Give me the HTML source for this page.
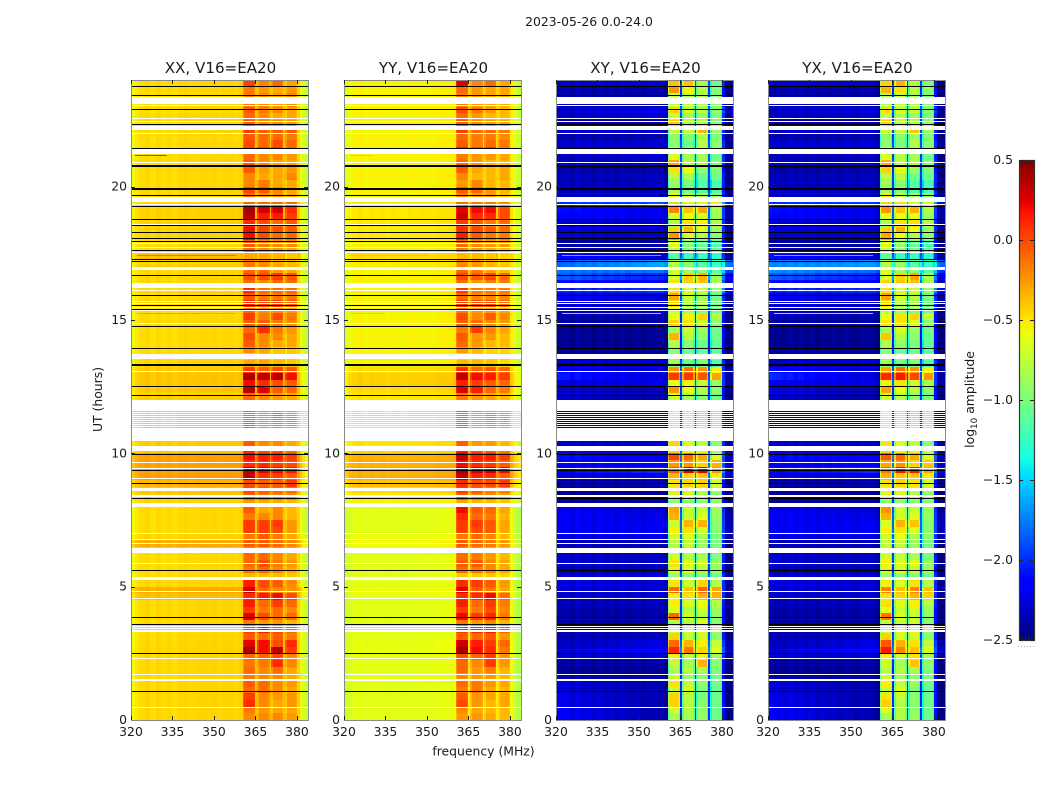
<!DOCTYPE html>
<html lang="en">
<head>
<meta charset="utf-8">
<title>2023-05-26 0.0-24.0</title>
<style>
html,body{margin:0;padding:0;background:#fff;width:1050px;height:800px;overflow:hidden}
svg{display:block}
text{font-family:"DejaVu Sans","Liberation Sans",sans-serif;fill:#1a1a1a}
.tick{font-size:12.4px}
.ptitle{font-size:15.1px;text-anchor:middle}
</style>
</head>
<body>
<svg id="fig" xmlns="http://www.w3.org/2000/svg" width="1050" height="800" viewBox="0 0 1050 800">
<rect x="0" y="0" width="1050" height="800" fill="#fff"/>
<text x="589" y="26" text-anchor="middle" font-size="12.4">2023-05-26 0.0-24.0</text>
<text x="0" y="0" text-anchor="middle" font-size="12.4" transform="translate(102,399.5) rotate(-90)">UT (hours)</text>
<text x="483.5" y="755.5" text-anchor="middle" font-size="12.4">frequency (MHz)</text>
<g id="panels"></g>
<g id="colorbar"></g>
<text x="0" y="0" text-anchor="middle" font-size="12.4" transform="translate(974,399.5) rotate(-90)">log<tspan font-size="8.8" dy="3">10</tspan><tspan dy="-3"> amplitude</tspan></text>
</svg>
<script>
const panelTitles = ["XX, V16=EA20","YY, V16=EA20","XY, V16=EA20","YX, V16=EA20"];
const freqTicks = [320,335,350,365,380];
const hourTicks = [0,5,10,15,20];
const colorTicks = [0.5,0,-0.5,-1,-1.5,-2,-2.5];

/* frequency bin edges in MHz */
const binEdges = [320,320.5,321.5,323,325,327,329,331,333,335,337,339,341,343,345,347,349,351,353,355,357,359,360.5,361,364.5,365,365.7,366.2,369.7,370.2,370.7,371.2,374.5,375,375.8,376.3,379.5,380,381,382,383,384];
/* bin kind: L=background blended left to right, R=right background, 1-4=sub-band */
const binKinds = ["L","L","L","L","L","L","L","L","L","L","L","L","L","L","L","L","L","L","L","L","L","L",1,1,1,"R",2,2,2,"R",3,3,3,"R",4,4,4,"R","R","R","R"];
/* per-bin bandpass offset in log10 amplitude */
const xxShape = [-.2,-.1,-.04,0,.02,-.02,.02,-.01,.01,-.02,.01,.02,0,.01,.02,.01,.02,.01,.02,.02,.01,.03,-.12,0,-.05,.09,-.12,0,-.05,.09,-.12,0,-.05,.09,-.12,0,-.05,.03,-.1,-.2,-.28,-.33];
const yyShape = [-.15,-.07,0,.03,.05,.02,.04,.03,.04,.02,.04,.03,.02,.04,.03,.04,.04,.03,.05,.05,.05,.06,-.12,0,-.05,.14,-.12,0,-.05,.14,-.12,0,-.05,.14,-.12,0,-.05,.06,-.03,-.1,-.15,-.19];
const xyShape = [-.05,-.08,-.1,-.08,-.13,-.06,-.12,-.08,-.13,-.07,-.12,-.08,-.12,-.07,-.12,-.09,-.08,-.12,-.08,-.07,-.08,-.15,-.28,.06,-.25,.3,-.28,.06,-.25,.3,-.28,.06,-.25,.3,-.28,.06,-.25,.2,-.2,-.25,-.25,-.22];
const yxShape = [-.04,-.07,-.1,-.09,-.12,-.07,-.12,-.07,-.12,-.08,-.13,-.08,-.11,-.08,-.12,-.08,-.09,-.12,-.07,-.08,-.08,-.15,-.28,.06,-.25,.3,-.28,.06,-.25,.3,-.28,.06,-.25,.3,-.28,.06,-.25,.2,-.2,-.25,-.25,-.22];

/* rows run top to bottom, 0.25 h each, from 24 h down to 0 h.  [background,band1,band2,band3,band4] */
const xxGrid = [
[-.47,.02,-.18,-.08,-.28],[-.47,-.15,-.25,-.3,-.25],[-.47,-.15,-.2,-.25,-.2],[-.47,-.15,-.2,-.25,-.2],
[-.47,-.05,-.15,-.2,-.3],[-.47,-.1,-.2,-.3,-.3],[-.47,-.05,-.2,-.2,-.25],[-.46,.05,-.05,-.05,-.05],
[-.47,-.05,-.1,-.1,-.15],[-.47,0,-.1,0,-.1],[-.47,.05,.05,.1,-.1],[-.47,-.1,-.2,-.2,-.25],
[-.47,-.05,-.2,-.3,-.3],[-.47,-.05,-.25,-.3,-.25],[-.47,-.2,-.3,-.3,-.2],[-.47,-.2,-.15,-.3,-.3],
[-.46,0,-.05,-.2,-.3],[-.46,-.1,-.2,-.2,-.3],[-.46,-.1,-.1,-.1,-.1],[-.44,.4,.3,.3,.1],
[-.44,.35,.15,.15,.05],[-.45,.1,0,-.1,-.05],[-.45,.2,.05,0,-.05],[-.45,.2,0,-.1,-.1],
[-.47,-.05,-.15,-.2,-.2],[-.47,-.1,-.2,-.25,-.3],[-.38,-.3,-.3,-.35,-.4],[-.44,-.15,-.2,-.3,-.35],
[-.46,-.1,-.1,-.25,-.3],[-.46,0,0,.05,-.05],[-.46,-.1,-.2,-.1,-.1],[-.46,.1,-.1,-.1,-.1],
[-.47,-.05,-.15,-.15,-.15],[-.46,.1,.05,.05,-.05],[-.47,-.1,-.2,-.2,-.25],[-.47,.05,-.15,0,-.15],
[-.47,-.05,-.05,-.15,-.2],[-.47,-.1,.1,-.15,-.25],[-.47,0,-.2,-.2,-.3],[-.47,-.05,-.2,-.3,-.3],
[-.47,-.2,-.3,-.4,-.4],[-.47,-.4,-.4,-.4,-.4],[-.46,-.3,-.3,-.35,-.4],[-.42,.05,-.05,0,-.05],
[-.4,.4,.35,.35,.2],[-.4,.2,.1,0,-.05],[-.42,.35,.25,-.05,-.1],[-.44,-.1,-.2,-.25,-.3],
[-.44,-.3,-.3,-.3,-.3],[-.44,-.05,-.2,-.2,-.25],[-.44,-.1,-.2,-.1,-.2],[-.44,-.05,-.2,-.15,-.2],
[-.44,-.1,-.2,-.2,-.25],[-.44,-.1,-.2,-.2,-.25],[-.42,-.05,-.2,-.2,-.3],[-.4,.1,0,0,-.1],
[-.28,.2,.15,.15,.05],[-.28,.1,.1,.05,0],[-.3,.35,.25,.2,.15],[-.28,.35,.1,.05,-.05],
[-.35,0,-.05,-.05,.05],[-.4,0,-.05,-.1,-.1],[-.42,-.05,-.1,-.15,-.2],[-.45,-.25,-.3,-.3,-.35],
[-.47,-.05,-.3,-.2,-.35],[-.47,-.15,-.2,-.2,-.35],[-.47,.05,.05,.05,-.25],[-.47,.05,.05,0,-.25],
[-.45,-.15,-.05,-.15,-.3],[-.32,-.05,-.05,-.1,-.2],[-.42,-.2,-.25,-.25,-.3],[-.47,-.1,-.1,-.2,-.3],
[-.47,-.1,0,-.15,-.25],[-.47,-.15,-.1,-.2,-.3],[-.47,-.35,-.35,-.35,-.4],[-.46,.15,0,-.05,-.2],
[-.33,.3,-.1,-.2,-.25],[-.38,.1,.15,.2,0],[-.46,.15,-.1,.05,-.1],[-.46,.05,-.15,-.1,-.2],
[-.46,.25,0,-.1,-.1],[-.47,-.15,-.25,-.25,-.35],[-.46,.05,.15,0,-.1],[-.47,-.05,-.1,-.05,-.15],
[-.46,.25,.2,0,.1],[-.45,.4,.2,.35,.05],[-.46,-.1,-.1,0,-.2],[-.46,-.15,-.15,.1,-.2],
[-.46,-.1,-.2,-.1,-.3],[-.46,-.15,-.2,-.2,-.3],[-.46,-.05,-.1,-.2,-.25],[-.46,-.1,-.1,-.2,-.3],
[-.46,.05,-.2,-.25,-.25],[-.46,.1,-.2,-.3,-.25],[-.46,-.15,-.25,-.3,-.3],[-.46,-.2,-.2,-.2,-.25]
];
const yyGrid = [
[-.58,.25,-.2,-.1,-.3],[-.58,-.1,-.25,-.3,-.3],[-.58,-.15,-.25,-.3,-.3],[-.58,-.15,-.25,-.3,-.3],
[-.58,0,-.15,-.25,-.35],[-.58,-.1,-.25,-.35,-.35],[-.58,-.05,-.2,-.25,-.3],[-.58,.05,-.1,-.1,-.15],
[-.58,-.1,-.15,-.15,-.2],[-.58,-.05,-.15,-.1,-.15],[-.58,.1,0,.05,-.15],[-.58,-.15,-.25,-.25,-.3],
[-.58,-.1,-.25,-.35,-.35],[-.58,-.05,-.3,-.35,-.3],[-.58,-.2,-.35,-.35,-.3],[-.58,-.25,-.2,-.35,-.35],
[-.58,-.05,-.1,-.25,-.35],[-.58,-.15,-.25,-.25,-.35],[-.56,-.1,-.15,-.15,-.2],[-.54,.25,.2,.2,0],
[-.54,.3,.1,.1,0],[-.55,.05,-.05,-.15,-.1],[-.55,.1,0,-.05,-.1],[-.55,.15,-.05,-.15,-.15],
[-.58,-.1,-.2,-.25,-.25],[-.58,-.15,-.25,-.3,-.35],[-.5,-.35,-.35,-.4,-.45],[-.55,-.2,-.25,-.35,-.4],
[-.58,-.1,-.15,-.3,-.35],[-.58,0,-.05,0,-.1],[-.58,-.1,-.25,-.15,-.15],[-.58,.05,-.15,-.15,-.15],
[-.58,-.1,-.2,-.2,-.2],[-.58,.05,0,0,-.1],[-.58,-.15,-.25,-.25,-.3],[-.58,0,-.2,-.05,-.2],
[-.58,-.05,-.1,-.2,-.25],[-.58,-.15,.05,-.2,-.3],[-.58,-.05,-.25,-.25,-.35],[-.58,-.1,-.25,-.35,-.35],
[-.58,-.25,-.35,-.45,-.45],[-.58,-.42,-.42,-.42,-.42],[-.58,-.35,-.35,-.4,-.45],[-.5,.1,-.1,-.05,-.1],
[-.46,.35,.2,.15,.05],[-.46,.15,.05,-.05,-.1],[-.5,.25,.15,-.1,-.15],[-.54,-.15,-.25,-.3,-.35],
[-.54,-.35,-.35,-.35,-.35],[-.54,-.05,-.2,-.25,-.3],[-.54,-.1,-.25,-.15,-.25],[-.54,-.05,-.25,-.2,-.25],
[-.54,-.1,-.25,-.25,-.3],[-.54,-.1,-.25,-.25,-.3],[-.52,-.05,-.25,-.25,-.35],[-.48,.15,0,-.05,-.15],
[-.36,.35,.15,.15,.05],[-.36,.2,.1,.05,-.05],[-.36,.42,.3,.3,.2],[-.36,.35,.15,.1,-.05],
[-.42,.1,0,0,.05],[-.5,.05,-.05,-.15,-.15],[-.54,-.05,-.15,-.2,-.25],[-.58,-.3,-.35,-.35,-.4],
[-.66,.2,-.05,-.1,-.3],[-.66,.1,-.1,-.15,-.35],[-.66,.05,.05,-.05,-.3],[-.66,.05,0,-.05,-.3],
[-.64,-.15,-.1,-.2,-.35],[-.6,-.05,-.1,-.15,-.25],[-.64,-.2,-.25,-.3,-.35],[-.66,-.1,-.15,-.25,-.35],
[-.66,-.05,-.05,-.2,-.3],[-.66,-.1,-.15,-.2,-.3],[-.66,-.4,-.4,-.4,-.45],[-.66,.1,.05,-.05,-.25],
[-.62,.25,-.05,-.15,-.3],[-.64,.1,.1,.2,-.1],[-.66,.15,-.1,.05,-.15],[-.66,.05,-.15,0,-.2],
[-.66,.2,.05,.1,-.15],[-.66,-.15,-.25,-.2,-.35],[-.66,.05,.1,.15,-.1],[-.66,-.05,-.1,-.05,-.25],
[-.64,.3,.15,.05,-.1],[-.64,.42,.2,.1,-.15],[-.65,0,-.1,.05,-.25],[-.65,-.1,-.2,.05,-.25],
[-.66,-.1,-.25,-.15,-.35],[-.66,-.2,-.25,-.25,-.35],[-.66,-.1,-.15,-.25,-.3],[-.66,-.15,-.15,-.3,-.35],
[-.66,-.05,-.25,-.3,-.3],[-.66,0,-.25,-.35,-.3],[-.66,-.2,-.3,-.35,-.35],[-.66,-.25,-.25,-.3,-.35]
];
/* [backgroundLeft,backgroundRight,band1,band2,band3,band4] */
const xyGrid = [
[-2.2,-2.2,-.45,-.45,-.9,-1.1],[-2.3,-2.3,-.3,-.6,-.85,-1.05],[-2.25,-2.3,-.8,-.85,-.9,-1],[-2.25,-2.3,-.8,-.85,-.9,-1],
[-2.2,-2.1,-.5,-.75,-.85,-1],[-2.25,-2.2,-.75,-.9,-.95,-1.05],[-2.3,-2.3,-.45,-.85,-.85,-1],[-2.2,-2.2,-.8,-.8,-.4,-.95],
[-2.3,-2.3,-1,-1,-.9,-1.05],[-2.2,-2.2,-1,-1.1,-.85,-1],[-2.2,-2.2,-.6,-1,-.75,-.95],[-2.25,-2.2,-.7,-.9,-.9,-1.1],
[-2.2,-2.2,-.35,-.8,-.85,-1.05],[-2.3,-2.3,-.55,-.65,-1,-1.05],[-2.25,-2.25,-.85,-.9,-1.15,-1.1],[-2.25,-2.25,-.95,-1.05,-1.2,-1.25],
[-2.25,-2.25,-.85,-1.05,-1.2,-1.2],[-2.2,-2.2,-.6,-.8,-.85,-1],[-1.9,-1.8,-.5,-.6,-.7,-.6],[-2,-2.15,-.25,-.45,-.35,-.9],
[-2.05,-2.15,-.75,-.65,-.75,-.95],[-2.2,-2.2,-.85,-.55,-.6,-.85],[-2.15,-2.2,-.5,-.4,-.7,-.95],[-2.2,-2.25,-.3,-.7,-.85,-1],
[-2.3,-2.3,-.7,-1,-1.1,-1.2],[-2.3,-2.3,-.8,-1,-1.1,-1.2],[-2,-2.2,-1.2,-1.3,-1.3,-1.35],[-1.75,-1.55,-.85,-1,-1.2,-1.3],
[-1.7,-1.7,-.7,-.9,-1,-1.2],[-1.75,-1.95,-.75,-.5,-.4,-.95],[-2,-2.1,-.55,-.5,-.45,-.9],[-1.95,-1.9,-.55,-.7,-.75,-1],
[-2.1,-2.2,-.35,-.75,-.9,-1.1],[-2.15,-2.2,-.5,-.85,-.9,-1.05],[-2.2,-2.2,-.75,-.9,-1,-1.1],[-2.3,-2.3,-.65,-.6,-.5,-.85],
[-2.3,-2.3,-.5,-.55,-.75,-1],[-2.35,-2.35,-.9,-.75,-.95,-1.1],[-2.35,-2.35,-.4,-.85,-1,-1.1],[-2.35,-2.35,-.85,-1,-1.1,-1.15],
[-2.35,-2.35,-1,-1.1,-1.15,-1.2],[-2.35,-2.35,-1,-1,-1,-1],[-2.2,-2.2,-.9,-1.1,-1,-1.2],[-2.1,-2.2,-.3,-.2,-.3,-.6],
[-1.95,-2.2,0,0,-.1,-.35],[-2.15,-2.15,-.65,-.6,-.8,-.95],[-2.2,-2.3,-.3,-.65,-.85,-1],[-2.2,-2.3,-.75,-.9,-1,-1.1],
[-2.3,-2.3,-.9,-.9,-.9,-.9],[-2.3,-2.3,-.7,-.85,-1.1,-.95],[-2.3,-2.3,-.6,-.8,-1.1,-.95],[-2.3,-2.3,-.55,-.8,-1,-1],
[-2.3,-2.3,-.8,-.8,-.8,-.8],[-2.3,-2.3,-.8,-.8,-.8,-.8],[-2.2,-2.2,-.5,-.7,-.8,-1],[-2.1,-2.1,-.5,-.6,-.6,-.9],
[-2,-2.1,-.05,-.15,-.35,-.75],[-2.1,-2.1,-.3,-.3,-.5,-.4],[-2.05,-1.9,-.1,.2,.2,-.3],[-2.2,-2.1,-.4,-.5,-.45,-.6],
[-2.3,-2.3,-.55,-.5,-.5,-.75],[-2.35,-2.35,-.55,-.6,-.85,-.9],[-2.35,-2.35,-.75,-.8,-.9,-1.05],[-2.35,-2.35,-1,-1,-1,-1],
[-2.1,-2.2,-.35,-.75,-.8,-.95],[-2.08,-2.15,-.4,-.8,-.7,-.95],[-2.1,-2.12,-.75,-.4,-.4,-1],[-2.1,-2.12,-.6,-.55,-.75,-1],
[-2.15,-2.15,-.75,-.7,-.9,-1.05],[-2.25,-2.25,-.85,-.8,-.95,-1.05],[-2.2,-2.25,-.9,-1,-1,-1.1],[-2.2,-2.25,-.75,-.85,-.9,-1.05],
[-2.2,-2.25,-.55,-.7,-.75,-.95],[-2.3,-2.3,-.75,-.7,-.9,-.95],[-2.2,-2.2,-.95,-1,-1,-1.1],[-2.15,-2.2,-.55,-.75,-.5,-.85],
[-2.2,-2.2,-.15,-.45,-.15,-.35],[-2.2,-2.2,-.6,-.55,-.4,-.4],[-2.25,-2.25,-.6,-.7,-.65,-.85],[-2.3,-2.3,-.7,-.85,-.75,-.95],
[-2.3,-2.3,-.15,-.75,-.85,-1],[-2.3,-2.3,-.85,-.85,-.7,-1],[-2.3,-2.3,-.75,-.75,-.6,-.95],[-2.25,-2.25,-.5,-.8,-.75,-1],
[-2.25,-2.15,-.15,-.4,-.6,-.8],[-2.2,-2.05,.05,-.2,-.5,-.7],[-2.2,-2.2,-.6,-.8,-.6,-.95],[-2.3,-2.3,-.8,-.9,-.4,-1],
[-2.35,-2.35,-.9,-.85,-.9,-1.05],[-2.3,-2.3,-.75,-.95,-1,-1.1],[-2.15,-2.3,-.55,-.8,-1,-1.1],[-2.2,-2.3,-.8,-.75,-1.05,-1.15],
[-2.12,-2.3,-.5,-.85,-1.05,-1.1],[-2.12,-2.3,-.5,-.85,-1,-1.1],[-2.08,-2.3,-.75,-.85,-1,-1.1],[-2.08,-2.3,-.9,-.9,-.95,-1.1]
];
const yxGrid = [
[-2.2,-2.25,-.5,-.4,-.85,-1.05],[-2.3,-2.3,-.4,-.55,-.85,-1],[-2.25,-2.3,-.85,-.85,-.9,-1],[-2.25,-2.3,-.85,-.85,-.9,-1],
[-2.2,-2.15,-.55,-.75,-.8,-1],[-2.25,-2.25,-.8,-.85,-.95,-1.05],[-2.3,-2.3,-.5,-.8,-.85,-1],[-2.2,-2.2,-.75,-.8,-.45,-.9],
[-2.3,-2.3,-1,-1,-.95,-1.05],[-2.2,-2.2,-1,-1.05,-.85,-1],[-2.2,-2.2,-.6,-.95,-.8,-.95],[-2.25,-2.25,-.7,-.85,-.9,-1.1],
[-2.2,-2.2,-.4,-.8,-.85,-1],[-2.3,-2.3,-.5,-.65,-.95,-1.05],[-2.25,-2.25,-.85,-.85,-1.1,-1.1],[-2.25,-2.25,-.9,-1,-1.2,-1.25],
[-2.2,-2.25,-.85,-1,-1.2,-1.2],[-2.2,-2.2,-.6,-.8,-.9,-1],[-1.9,-1.85,-.5,-.55,-.7,-.65],[-2,-2.15,-.3,-.45,-.4,-.85],
[-2.05,-2.15,-.7,-.65,-.7,-.95],[-2.2,-2.2,-.85,-.55,-.55,-.85],[-2.15,-2.2,-.5,-.4,-.65,-.95],[-2.2,-2.25,-.35,-.65,-.85,-1],
[-2.3,-2.3,-.7,-.95,-1.1,-1.2],[-2.25,-2.3,-.8,-1,-1.1,-1.2],[-2,-2.2,-1.15,-1.3,-1.3,-1.35],[-1.65,-1.6,-.85,-.95,-1.2,-1.3],
[-1.6,-1.75,-.7,-.9,-1,-1.2],[-1.75,-1.95,-.7,-.5,-.35,-.9],[-2,-2.1,-.5,-.45,-.45,-.85],[-1.95,-1.9,-.55,-.7,-.75,-1],
[-2.1,-2.2,-.35,-.7,-.85,-1.05],[-2.15,-2.2,-.55,-.85,-.9,-1.05],[-2.2,-2.2,-.75,-.9,-1,-1.1],[-2.25,-2.3,-.65,-.55,-.5,-.8],
[-2.3,-2.3,-.55,-.55,-.7,-1],[-2.35,-2.35,-.9,-.7,-.95,-1.1],[-2.35,-2.35,-.45,-.85,-1,-1.1],[-2.35,-2.35,-.85,-.95,-1.05,-1.15],
[-2.3,-2.35,-1,-1.1,-1.1,-1.2],[-2.35,-2.35,-1,-1,-1,-1],[-2.2,-2.2,-.9,-1.05,-1,-1.2],[-2.05,-2.2,-.35,-.2,-.3,-.6],
[-1.9,-2.2,.05,.1,-.05,-.3],[-2.1,-2.15,-.6,-.55,-.75,-.9],[-2.15,-2.3,-.35,-.65,-.85,-1],[-2.2,-2.3,-.75,-.85,-1,-1.05],
[-2.3,-2.3,-.9,-.9,-.9,-.9],[-2.3,-2.3,-.7,-.85,-1.05,-.95],[-2.3,-2.3,-.65,-.8,-1.05,-.95],[-2.3,-2.3,-.6,-.8,-1,-1],
[-2.3,-2.3,-.8,-.8,-.8,-.8],[-2.3,-2.3,-.8,-.8,-.8,-.8],[-2.2,-2.2,-.55,-.7,-.8,-1],[-2.1,-2.1,-.5,-.6,-.6,-.9],
[-2,-2.05,-.1,-.15,-.35,-.7],[-2.1,-2.1,-.35,-.3,-.5,-.45],[-2.05,-1.9,-.2,.1,.1,-.35],[-2.2,-2.1,-.4,-.45,-.45,-.6],
[-2.3,-2.3,-.55,-.5,-.55,-.75],[-2.35,-2.35,-.6,-.6,-.85,-.9],[-2.3,-2.35,-.75,-.8,-.9,-1],[-2.35,-2.35,-1,-1,-1,-1],
[-2.1,-2.2,-.3,-.75,-.8,-.95],[-2.08,-2.15,-.4,-.75,-.7,-.95],[-2.1,-2.12,-.7,-.4,-.45,-1],[-2.1,-2.12,-.6,-.55,-.7,-1],
[-2.15,-2.15,-.75,-.65,-.9,-1],[-2.25,-2.25,-.8,-.8,-.95,-1.05],[-2.2,-2.25,-.9,-.95,-1,-1.1],[-2.2,-2.25,-.75,-.8,-.9,-1.05],
[-2.2,-2.25,-.6,-.7,-.7,-.95],[-2.3,-2.3,-.75,-.7,-.85,-.95],[-2.2,-2.2,-.95,-1,-1,-1.1],[-2.15,-2.2,-.6,-.7,-.55,-.85],
[-2.2,-2.2,-.25,-.45,-.25,-.45],[-2.2,-2.2,-.55,-.5,-.4,-.5],[-2.25,-2.25,-.55,-.7,-.6,-.85],[-2.3,-2.3,-.65,-.8,-.75,-.95],
[-2.3,-2.3,-.2,-.7,-.8,-1],[-2.3,-2.3,-.8,-.8,-.75,-1],[-2.3,-2.3,-.75,-.7,-.6,-.95],[-2.25,-2.25,-.5,-.75,-.75,-1],
[-2.25,-2.15,-.1,-.4,-.55,-.8],[-2.2,-2.05,.1,-.25,-.45,-.7],[-2.2,-2.2,-.6,-.75,-.55,-.95],[-2.3,-2.3,-.75,-.9,-.45,-1],
[-2.35,-2.35,-.85,-.85,-.9,-1.05],[-2.3,-2.3,-.75,-.9,-1,-1.05],[-2.15,-2.3,-.6,-.8,-.95,-1.1],[-2.2,-2.3,-.8,-.7,-1.05,-1.15],
[-2.12,-2.3,-.55,-.8,-1,-1.1],[-2.12,-2.3,-.5,-.85,-1,-1.1],[-2.08,-2.3,-.7,-.85,-1,-1.1],[-2.08,-2.3,-.9,-.85,-.95,-1.1]
];

/* narrow interference streaks: [hour, startMHz, endMHz, log10 amplitude] */
const xxStreaks = [[21.2,321.5,333,.1],[17.43,322,358,-.12],[15.27,322,358,-.3]];
const yyStreaks = [[21.2,322,330,-.4],[17.43,322,350,-.4],[15.27,322,335,-.4]];
const xyStreaks = [[21.3,322,342,-1.5],[17.43,322,358,-1.5],[15.27,322,358,-1.3]];
const yxStreaks = [[21.3,322,342,-1.5],[17.43,322,358,-1.5],[15.27,322,358,-1.2]];

/* flagged intervals in hours (blank data) */
const flaggedIntervals = [[23.1,23.35],[22.14,22.29],[21.22,21.4],[19.41,19.62],[16.88,17],[16.19,16.38],[13.54,13.72],[11.6,12],[10.47,10.91],[10.09,10.28],[8.6,8.69],[8.35,8.43],[8,8.13],[6.27,6.44],[5.25,5.35],[3.31,3.38],[1.46,1.53]];
const flaggedHours = [23.05,22.58,22.47,22,20.93,19.35,18.59,17.89,17.73,17.55,16.13,15.71,15.65,15.5,15.38,14.88,13.08,11.55,11.475,11.4,11.325,11.25,11.175,11.1,11.025,10.95,9.66,9.44,9.06,7,6.78,6.63,5.88,4.85,4.56,3.52,3.45,2.31,1.74,.48];
/* zero-amplitude integrations, drawn black */
const blackHours = [23.775,23.43,22.9,22.34,21.46,19.68,19.26,18.78,18.55,18.29,18.06,17.95,17.61,17.29,17.22,16.68,15.93,15.56,15.41,14.79,13.94,12.51,12.19,9.96,9.36,8.88,8.31,5.61,3.85,3.59,2.5,1.08];
const blackIntervals = [[20.75,20.81],[19.88,19.96],[13.26,13.34]];

const panelGrids = [xxGrid,yyGrid,xyGrid,yxGrid];
const panelShapes = [xxShape,yyShape,xyShape,yxShape];
const panelStreaks = [xxStreaks,yyStreaks,xyStreaks,yxStreaks];
const panelKeys = ["xx","yy","xy","yx"];

const NS = "http://www.w3.org/2000/svg";
const panelLeft = [131,344,556,768];
const panelWidth = 177, plotTop = 80, plotBottom = 720;
const FMIN = 320, FMAX = 384, HMAX = 24, VMIN = -2.5, VMAX = .5, BGSPAN = 40;
const xScale = (x0,f) => x0 + (f-FMIN)/(FMAX-FMIN)*panelWidth;
const yScale = h => plotBottom - h/HMAX*(plotBottom-plotTop);

const jetR = [[0,0],[.35,0],[.66,1],[.89,1],[1,.5]];
const jetG = [[0,0],[.125,0],[.375,1],[.64,1],[.91,0],[1,0]];
const jetB = [[0,.5],[.11,1],[.34,1],[.65,0],[1,0]];
function lerp(tbl,f){
  for(let i=1;i<tbl.length;i++){
    if(f<=tbl[i][0]){
      const t=(f-tbl[i-1][0])/(tbl[i][0]-tbl[i-1][0]);
      return tbl[i-1][1]+t*(tbl[i][1]-tbl[i-1][1]);
    }
  }
  return tbl[tbl.length-1][1];
}
function jet(f){
  f=Math.max(0,Math.min(1,f));
  return "rgb("+Math.round(lerp(jetR,f)*255)+","+Math.round(lerp(jetG,f)*255)+","+Math.round(lerp(jetB,f)*255)+")";
}
const colorOf = v => jet((v-VMIN)/(VMAX-VMIN));

function mk(tag,parent,attrs){
  const el=document.createElementNS(NS,tag);
  for(const k in attrs) el.setAttribute(k,attrs[k]);
  parent.appendChild(el);
  return el;
}
function cellValue(row,kind,delta,centerMHz){
  const off=row.length-5;
  if(kind==="L"){
    const t=(centerMHz-FMIN)/BGSPAN;
    return row[0]*(1-t)+row[off]*t+delta;
  }
  if(kind==="R") return row[off]+delta;
  return row[off+kind]+delta;
}
/* snap a horizontal strip to whole device pixels */
function strip(parent,x0,hHigh,hLow,fill){
  const y0=Math.round(yScale(hHigh));
  const y1=Math.max(y0+1,Math.round(yScale(hLow)));
  return mk("rect",parent,{x:x0+1,y:y0,width:panelWidth-1,height:y1-y0,fill:fill,"shape-rendering":"crispEdges"});
}

const panelsRoot=document.getElementById("panels");
panelLeft.forEach((x0,p)=>{
  const g=mk("g",panelsRoot,{});
  
  
  const cells=mk("g",g,{"shape-rendering":"crispEdges"});
  
  
  const grid=panelGrids[p], shape=panelShapes[p];
  grid.forEach((row,r)=>{
    const y0=Math.round(yScale(HMAX-r*HMAX/grid.length));
    const y1=Math.round(yScale(HMAX-(r+1)*HMAX/grid.length));
    binKinds.forEach((kind,b)=>{
      const xa=Math.round(xScale(x0,binEdges[b])), xb=Math.round(xScale(x0,binEdges[b+1]));
      const center=(binEdges[b]+binEdges[b+1])/2;
      const cell=mk("rect",cells,{x:xa,y:y0,width:xb-xa,height:y1-y0,fill:colorOf(cellValue(row,kind,shape[b],center))});
      
      
    });
  });
  panelStreaks[p].forEach(s=>{
    const xa=Math.round(xScale(x0,s[1])), xb=Math.round(xScale(x0,s[2]));
    const st=mk("rect",g,{x:xa,y:Math.round(yScale(s[0])),width:xb-xa,height:1,fill:colorOf(s[3]),"shape-rendering":"crispEdges"});
    
    
  });
  flaggedIntervals.forEach(iv=>{
    const fl=strip(g,x0,iv[1],iv[0],"#fff");
    
    
  });
  flaggedHours.forEach(h=>{
    const fl=strip(g,x0,h,h,"#fff");
    
    
  });
  blackHours.forEach(h=>{
    const bl=strip(g,x0,h,h,"#000");
    
    
  });
  blackIntervals.forEach(iv=>{
    const bl=strip(g,x0,iv[1],iv[0],"#000");
    
    
  });
  const frame=mk("rect",g,{x:x0+.5,y:plotTop+.5,width:panelWidth,height:plotBottom-plotTop,fill:"none",stroke:"#8a8a8a","stroke-width":1});
  
  
  freqTicks.forEach(f=>{
    const x=Math.round(xScale(x0,f))+.5;
    const t1=mk("line",g,{x1:x,x2:x,y1:plotBottom,y2:plotBottom-4,stroke:"#222","stroke-width":1});
    
    
    const t2=mk("line",g,{x1:x,x2:x,y1:plotTop,y2:plotTop+4,stroke:"#222","stroke-width":1});
    
    
    const lb=mk("text",g,{x:xScale(x0,f),y:736,"text-anchor":"middle","class":"tick"});
    
    
    lb.textContent=String(f);
  });
  hourTicks.forEach(h=>{
    const y=Math.round(yScale(h))+.5;
    if(h>0){
      const t1=mk("line",g,{x1:x0,x2:x0+4,y1:y,y2:y,stroke:"#222","stroke-width":1});
      
      
      const t2=mk("line",g,{x1:x0+panelWidth,x2:x0+panelWidth-4,y1:y,y2:y,stroke:"#222","stroke-width":1});
      
      
    }
    const lb=mk("text",g,{x:x0-4,y:yScale(h)+4,"text-anchor":"end","class":"tick"});
    
    
    lb.textContent=String(h);
  });
  const tt=mk("text",g,{x:x0+panelWidth/2+1,y:73,"class":"ptitle"});
  
  
  tt.textContent=panelTitles[p];
});

/* colour bar */
const cbRoot=document.getElementById("colorbar");
const cbX=1019, cbW=15, cbTop=160, cbBottom=640;
const cbY=v=>cbBottom-(v-VMIN)/(VMAX-VMIN)*(cbBottom-cbTop);
const cbSteps=240;
for(let i=0;i<cbSteps;i++){
  const f0=i/cbSteps, y0=cbBottom-(i+1)/cbSteps*(cbBottom-cbTop);
  const seg=mk("rect",cbRoot,{x:cbX,y:y0,width:cbW,height:(cbBottom-cbTop)/cbSteps,fill:jet(f0+.5/cbSteps),"shape-rendering":"crispEdges"});
  
  
}
const cbFrame=mk("rect",cbRoot,{x:cbX+.5,y:cbTop+.5,width:cbW,height:cbBottom-cbTop,fill:"none",stroke:"#333","stroke-width":1.2});


colorTicks.forEach(v=>{
  const y=Math.round(cbY(v))+.5;
  const t1=mk("line",cbRoot,{x1:cbX,x2:cbX+4,y1:y,y2:y,stroke:"#222","stroke-width":1});
  
  
  const t2=mk("line",cbRoot,{x1:cbX+cbW,x2:cbX+cbW-4,y1:y,y2:y,stroke:"#222","stroke-width":1});
  
  
  const lb=mk("text",cbRoot,{x:1013,y:cbY(v)+4,"text-anchor":"end","class":"tick"});
  
  
  lb.textContent=v.toFixed(1).replace("-","\u2212");
});
[1/5,2/5,3/5,4/5].forEach(frac=>{
  const x=Math.round(cbX+frac*cbW)+.5;
  const t1=mk("line",cbRoot,{x1:x,x2:x,y1:cbTop,y2:cbTop+4,stroke:"#222","stroke-width":1});
  
  
  const t2=mk("line",cbRoot,{x1:x,x2:x,y1:cbBottom,y2:cbBottom-4,stroke:"#222","stroke-width":1});
  
  
});
const dots=mk("line",cbRoot,{x1:1018,x2:1035,y1:646.5,y2:646.5,stroke:"#aaa","stroke-width":1,"stroke-dasharray":"1 2"});


</script>
</body>
</html>
